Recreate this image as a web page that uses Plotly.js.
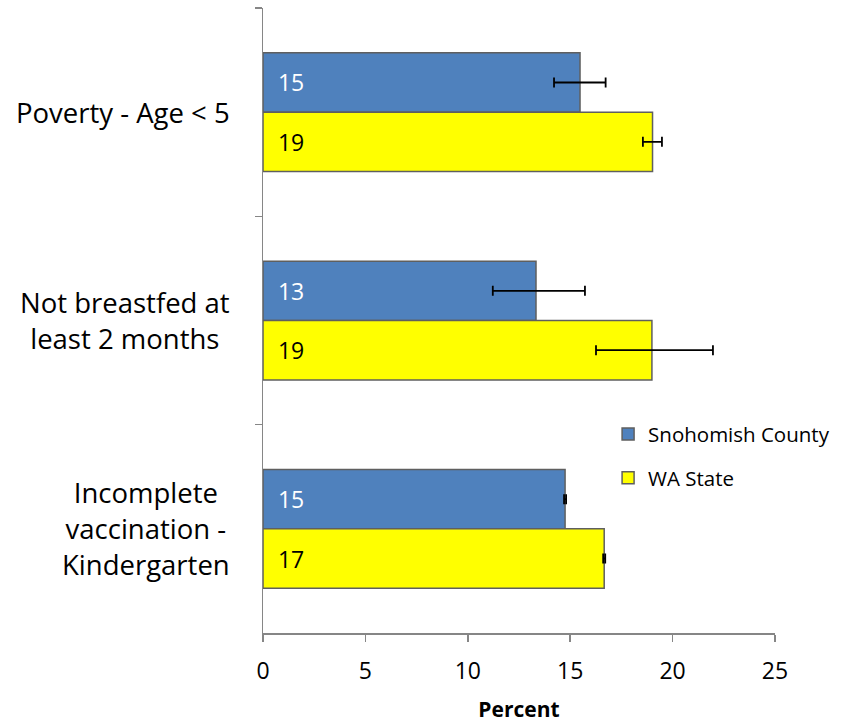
<!DOCTYPE html>
<html><head><meta charset="utf-8">
<script src="https://cdn.plot.ly/plotly-3.0.1.min.js"></script>
<style>html,body{margin:0;padding:0;background:#fff}#chart{width:854px;height:723px}</style>
</head><body><div id="chart"></div>
<script>
var categories = ["Poverty - Age < 5", "Not breastfed at<br>least 2 months", "Incomplete<br>vaccination -<br>Kindergarten"];
var seriesNames = ["Snohomish County", "WA State"];
var snohomish = [15.48, 13.33, 14.75];
var snohomishErrPlus = [1.25, 2.39, 0.05];
var snohomishErrMinus = [1.27, 2.11, 0.05];
var waState = [19.02, 18.99, 16.66];
var waErrPlus = [0.46, 2.98, 0.05];
var waErrMinus = [0.47, 2.73, 0.05];
var xTicks = [0, 5, 10, 15, 20, 25];

var FONT = "Open Sans, Noto Sans, sans-serif";
var lbl = '\u00a0\u00a0%{x:.0f}';

var traces = [
  {type:'bar', orientation:'h', name:seriesNames[0], legendgroup:'a', y:categories, x:snohomish,
   marker:{color:'#4F81BD', line:{color:'#5f5f5f', width:1.5}},
   texttemplate:lbl, textposition:'inside', insidetextanchor:'start',
   textfont:{color:'#ffffff', size:23, family:FONT}, hoverinfo:'none',
   error_x:{type:'data', symmetric:false, array:snohomishErrPlus, arrayminus:snohomishErrMinus, color:'#000', thickness:1.8, width:5}},
  {type:'bar', orientation:'h', name:seriesNames[1], legendgroup:'b', y:categories, x:waState,
   marker:{color:'#FFFF00', line:{color:'#5f5f5f', width:1.5}},
   texttemplate:lbl, textposition:'inside', insidetextanchor:'start',
   textfont:{color:'#000000', size:23, family:FONT}, hoverinfo:'none',
   error_x:{type:'data', symmetric:false, array:waErrPlus, arrayminus:waErrMinus, color:'#000', thickness:1.8, width:5}}
];

var annotations = categories.map(function(c){
  return {xref:'paper', yref:'y', x:0, y:c, xshift:-31, xanchor:'right', yanchor:'middle',
    align:'center', text:c, showarrow:false, font:{family:FONT, size:27.5, color:'#000'}};
});

var layout = {
  width:854, height:723,
  margin:{l:263, r:79, t:8, b:90},
  paper_bgcolor:'#fff', plot_bgcolor:'#fff',
  barmode:'group', bargap:0.43, bargroupgap:0,
  showlegend:true,
  legend:{x:0.674, y:0.35, xanchor:'left', yanchor:'top', bgcolor:'rgba(0,0,0,0)', borderwidth:0,
    font:{family:FONT, size:20.5, color:'#000'}, traceorder:'grouped', tracegroupgap:14, itemwidth:30},
  xaxis:{range:[0,25], tickvals:xTicks, ticktext:xTicks.map(String), showgrid:false, zeroline:false,
    showline:true, linecolor:'#868686', linewidth:1.5, ticks:'outside', ticklen:7, tickcolor:'#868686', tickwidth:1.5,
    ticklabelstandoff:10,
    tickfont:{family:FONT, size:23, color:'#000'},
    title:{text:'<b>Percent</b>', font:{family:FONT, size:21, color:'#000'}, standoff:17}},
  yaxis:{autorange:'reversed', showticklabels:false, showgrid:false, zeroline:false,
    showline:true, linecolor:'#868686', linewidth:1.5, ticks:'outside', ticklen:7, tickcolor:'#868686', tickwidth:1.5,
    tickson:'boundaries'},
  annotations:annotations,
  font:{family:FONT}
};
Plotly.newPlot('chart', traces, layout, {displayModeBar:false, staticPlot:true});
</script></body></html>
